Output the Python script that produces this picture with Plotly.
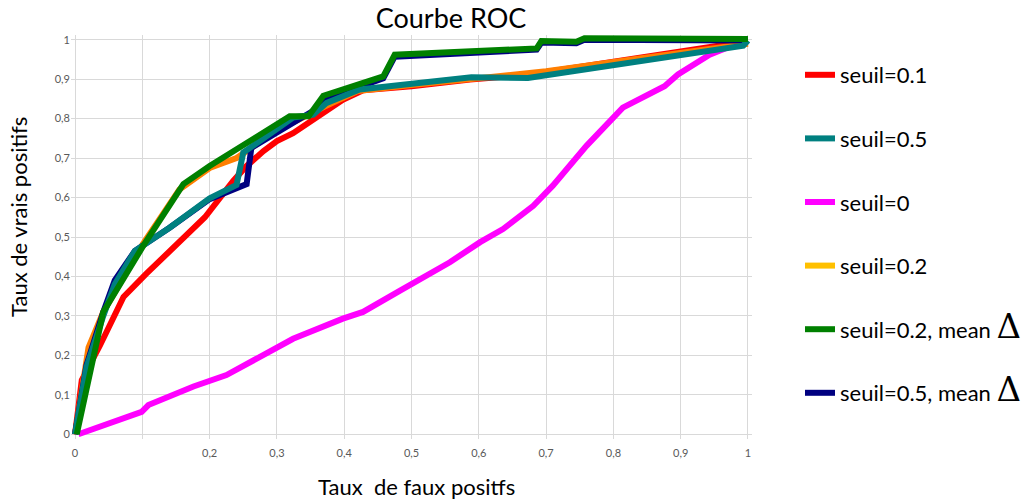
import plotly.graph_objects as go

# ---- data ----
red_x = [0, 0.01, 0.037, 0.072, 0.106, 0.156, 0.193, 0.235, 0.255, 0.28, 0.30, 0.324, 0.354, 0.398, 0.428, 0.50, 0.587, 0.676, 1.0]
red_y = [0, 0.137, 0.225, 0.348, 0.407, 0.487, 0.55, 0.642, 0.68, 0.718, 0.743, 0.763, 0.798, 0.848, 0.872, 0.882, 0.899, 0.912, 0.996]

teal_x = [0, 0.017, 0.042, 0.059, 0.089, 0.141, 0.2, 0.24, 0.25, 0.324, 0.354, 0.374, 0.423, 0.50, 0.589, 0.673, 0.993, 1.0]
teal_y = [0, 0.17, 0.30, 0.38, 0.465, 0.524, 0.598, 0.632, 0.714, 0.803, 0.81, 0.84, 0.874, 0.89, 0.905, 0.903, 0.985, 0.998]

mag_x = [0.005, 0.099, 0.109, 0.146, 0.176, 0.225, 0.275, 0.324, 0.398, 0.428, 0.483, 0.557, 0.602, 0.636, 0.681, 0.710, 0.760, 0.814, 0.876, 0.896, 0.943, 0.993]
mag_y = [0, 0.057, 0.074, 0.099, 0.121, 0.150, 0.196, 0.242, 0.293, 0.310, 0.364, 0.436, 0.487, 0.52, 0.579, 0.630, 0.731, 0.828, 0.882, 0.912, 0.962, 0.996]

orange_x = [0, 0.02, 0.042, 0.10, 0.155, 0.20, 0.24, 0.30, 0.37, 0.42, 0.50, 0.60, 0.70, 1.0]
orange_y = [0, 0.22, 0.31, 0.48, 0.62, 0.675, 0.70, 0.77, 0.83, 0.87, 0.885, 0.903, 0.92, 0.99]

green_x = [0.0025, 0.042, 0.1015, 0.161, 0.2, 0.319, 0.347, 0.369, 0.458, 0.475, 0.686, 0.693, 0.745, 0.757, 1.0]
green_y = [0, 0.31, 0.478, 0.634, 0.68, 0.806, 0.806, 0.858, 0.907, 0.962, 0.978, 0.997, 0.995, 1.004, 1.002]

navy_x = [0, 0.017, 0.042, 0.059, 0.089, 0.141, 0.2, 0.24, 0.255, 0.262, 0.319, 0.364, 0.375, 0.458, 0.475, 0.686, 0.693, 0.745, 0.757, 1.0]
navy_y = [0, 0.175, 0.31, 0.39, 0.465, 0.524, 0.596, 0.625, 0.634, 0.726, 0.785, 0.83, 0.852, 0.902, 0.957, 0.975, 0.993, 0.991, 1.0, 0.998]

x_tickvals = [0, 0.1, 0.2, 0.3, 0.4, 0.5, 0.6, 0.7, 0.8, 0.9, 1]
x_ticktext = ["0", "", "0,2", "0,3", "0,4", "0,5", "0,6", "0,7", "0,8", "0,9", "1"]
y_tickvals = [0, 0.1, 0.2, 0.3, 0.4, 0.5, 0.6, 0.7, 0.8, 0.9, 1]
y_ticktext = ["0", "0,1", "0,2", "0,3", "0,4", "0,5", "0,6", "0,7", "0,8", "0,9", "1"]

DELTA = "<span style='font-size:34px;font-family:DejaVu Serif'>Δ</span>"
legend_names = ["seuil=0.1", "seuil=0.5", "seuil=0", "seuil=0.2",
                "seuil=0.2, mean " + DELTA, "seuil=0.5, mean " + DELTA]
legend_colors = ["#FF0000", "#008080", "#FF00FF", "#FFC000", "#008000", "#000080"]

# ---- geometry (body margin removed via post_script, so page px == figure px) ----
W, H = 1035, 502
L, R, T, B = 71, 283, 35, 63
PW, PH = W - L - R, H - T - B


def px_to_paper(sx, sy):
    return (sx - L) / PW, (H - B - sy) / PH


fig = go.Figure()
LW = 6
plot_series = [
    (red_x, red_y, "#FF0000"),
    (mag_x, mag_y, "#FF00FF"),
    (orange_x, orange_y, "#FF7F00"),
    (navy_x, navy_y, "#000080"),
    (teal_x, teal_y, "#008080"),
    (green_x, green_y, "#008000"),
]
for xs, ys, c in plot_series:
    fig.add_trace(go.Scatter(x=xs, y=ys, mode="lines", showlegend=False,
                             line=dict(color=c, width=LW), hoverinfo="skip"))

for i, (n, c) in enumerate(zip(legend_names, legend_colors)):
    fig.add_trace(go.Scatter(x=[None], y=[None], mode="lines", name=n,
                             legendgroup=f"g{i}",
                             line=dict(color=c, width=LW)))

tick_font = dict(family="Lato, sans-serif", size=11, color="#595959")
xt = px_to_paper(416, 486)
yt = px_to_paper(19, 217)
fig.update_layout(
    width=W, height=H,
    paper_bgcolor="white", plot_bgcolor="white",
    margin=dict(l=L, r=R, t=T, b=B),
    title=dict(text="Courbe ROC", x=451 / W, xref="container", xanchor="center",
               y=1 - 19 / H, yref="container", yanchor="middle",
               font=dict(family="Lato, sans-serif", size=27, color="black")),
    xaxis=dict(range=[-0.006, 1.006], tickvals=x_tickvals, ticktext=x_ticktext,
               showgrid=True, gridcolor="#D9D9D9", gridwidth=1, zeroline=False,
               showline=False, ticks="", tickfont=tick_font, fixedrange=True,
               ticklabelstandoff=6),
    yaxis=dict(range=[-0.012, 1.012], tickvals=y_tickvals, ticktext=y_ticktext,
               showgrid=True, gridcolor="#D9D9D9", gridwidth=1, zeroline=False,
               showline=False, ticks="", tickfont=tick_font, fixedrange=True),
    legend=dict(x=800 / W, xref="container", y=1 - 54 / H, yref="container",
                xanchor="left", yanchor="top", tracegroupgap=32, maxheight=480,
                font=dict(family="Lato, sans-serif", size=22, color="black"),
                bgcolor="rgba(0,0,0,0)", itemwidth=30),
    annotations=[
        dict(text="Taux  de faux positfs", x=xt[0], y=xt[1],
             xref="paper", yref="paper", xanchor="center", yanchor="middle",
             showarrow=False, font=dict(family="Lato, sans-serif", size=22, color="black")),
        dict(text="Taux de vrais positifs", x=yt[0], y=yt[1], textangle=-90,
             xref="paper", yref="paper", xanchor="center", yanchor="middle",
             showarrow=False, font=dict(family="Lato, sans-serif", size=22, color="black")),
    ],
)

fig.write_html("out.html", config={"displayModeBar": False},
               post_script="document.body.style.margin='0';document.body.style.overflow='hidden';")
